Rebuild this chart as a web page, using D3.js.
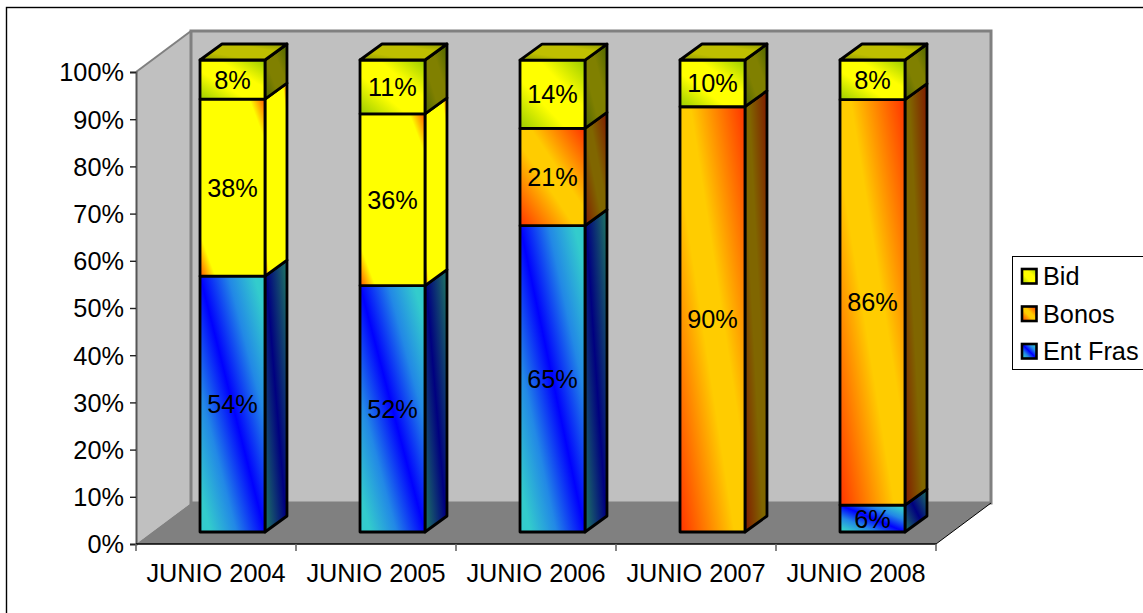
<!DOCTYPE html>
<html><head><meta charset="utf-8">
<script src="https://d3js.org/d3.v7.min.js"></script>
<style>
html,body{margin:0;padding:0;background:#fff;overflow:hidden}
svg{display:block}
text{font-family:"Liberation Sans",Arial,sans-serif;fill:#000}
</style></head><body>
<svg id="c" width="1143" height="613"></svg>
<script>
const categories = ["JUNIO 2004","JUNIO 2005","JUNIO 2006","JUNIO 2007","JUNIO 2008"];
const entFras = [54.2, 52.2, 64.9, 0, 5.7];
const bonos   = [37.5, 36.4, 20.6, 90.1, 85.9];
const bid     = [8.3, 11.4, 14.49, 9.9, 8.4];
const seriesNames = ["Bid","Bonos","Ent Fras"];
const yTicks = [0,10,20,30,40,50,60,70,80,90,100];
const bonosVariant = ["bright","bright","std","std","std"];

const W=1143,H=613;
const svg=d3.select("#c");
const defs=svg.append("defs");
function grad(id,stops){
  const g=defs.append("linearGradient").attr("id",id)
    .attr("x1",0).attr("y1",1).attr("x2",1).attr("y2",0);
  stops.forEach(([o,c])=>g.append("stop").attr("offset",o).attr("stop-color",c));
}
const sym=(a,b,k)=>[[0,a],[k,b],[1-k,b],[1,a]];
grad("f-ent",[[0,"#33CCCC"],[.08,"#33CCCC"],[.28,"#2288E6"],[.5,"#0000FF"],[.72,"#2288E6"],[.92,"#33CCCC"],[1,"#33CCCC"]]);
grad("s-ent",[[0,"#1A6666"],[.08,"#1A6666"],[.5,"#000080"],[.92,"#1A6666"],[1,"#1A6666"]]);
grad("f-bonos-std",sym("#FF3300","#FFCC00",.42));
grad("s-bonos-std",sym("#801A00","#806600",.42));
grad("f-bonos-bright",sym("#FF5500","#FFFF00",.12));
grad("s-bonos-bright",sym("#FF5500","#FFFF00",.1));
grad("f-bid",sym("#99CC00","#FFFF00",.36));
grad("s-bid",sym("#4D6600","#808000",.36));
grad("t-bid",sym("#8A9A00","#BFBF00",.3));

svg.append("rect").attr("width",W).attr("height",H).attr("fill","#fff");
svg.append("rect").attr("x",6.5).attr("y",7.5).attr("width",W+20).attr("height",H+20)
  .attr("fill","none").attr("stroke","#000").attr("stroke-width",1.4);

// Plot frame
const plotL=136,plotR=936,y0=544,y100=72,dX=55,dY=-41;
const yAxisScale=d3.scaleLinear().domain([0,100]).range([y0,y100]);
const xAxisScale=d3.scaleBand().domain(categories).range([plotL,plotR]);

// walls
const poly=pts=>"M"+pts.map(p=>p.join(",")).join("L")+"Z";
svg.append("path").attr("d",poly([[plotL,y100],[plotL+dX,y100+dY],[plotL+dX,y0+dY],[plotL,y0]]))
  .attr("fill","#C0C0C0").attr("stroke","none");
svg.append("path").attr("d",`M${plotL},${y100}L${plotL+dX},${y100+dY}`).attr("stroke","#808080").attr("stroke-width",2).attr("fill","none");
svg.append("rect").attr("x",plotL+dX).attr("y",y100+dY).attr("width",plotR-plotL).attr("height",y0-y100)
  .attr("fill","#C0C0C0").attr("stroke","#808080").attr("stroke-width",3);
svg.append("path").attr("d",poly([[plotL,y0],[plotL+dX,y0+dY],[plotR+dX,y0+dY],[plotR,y0]]))
  .attr("fill","#808080");
svg.append("path").attr("d",`M${plotR},${y0}L${plotR+dX},${y0+dY}`).attr("stroke","#000").attr("stroke-width",1).attr("fill","none");

// bars
const bdX=22,bdY=-16;
const xBar=d3.scaleBand().domain(categories).range([plotL+16.5,plotR+16.5]).paddingInner(.594).paddingOuter(.297);
const yBar=d3.scaleLinear().domain([0,100]).range([532,60]);
const rows=categories.map((c,i)=>({cat:c,i,entFras:entFras[i],bonos:bonos[i],bid:bid[i]}));
const keys=["entFras","bonos","bid"];
const stacked=d3.stack().keys(keys)(rows);
const gradFor=(key,i,face)=> key==="entFras"?`url(#${face}-ent)`
  : key==="bid"?`url(#${face}-bid)`
  : `url(#${face}-bonos-${bonosVariant[i]})`;
const bw=xBar.bandwidth();
const barG=svg.append("g").attr("stroke","#000").attr("stroke-width",2.8).attr("stroke-linejoin","round");
stacked.forEach(layer=>{
  layer.forEach((d,i)=>{
    if(d[1]-d[0]<=0) return;
    const x=xBar(categories[i]), yb=yBar(d[0]), yt=yBar(d[1]);
    barG.append("path").attr("d",poly([[x+bw,yt],[x+bw+bdX,yt+bdY],[x+bw+bdX,yb+bdY],[x+bw,yb]]))
      .attr("fill",gradFor(layer.key,i,"s"));
    barG.append("rect").attr("x",x).attr("y",yt).attr("width",bw).attr("height",yb-yt)
      .attr("fill",gradFor(layer.key,i,"f"));
    if(layer.key==="bid"){
      barG.append("path").attr("d",poly([[x,yt],[x+bdX,yt+bdY],[x+bw+bdX,yt+bdY],[x+bw,yt]]))
        .attr("fill","url(#t-bid)");
    }
  });
});
const fs=25.3;
// data labels
const labG=svg.append("g").attr("font-size",fs).attr("text-anchor","middle");
stacked.forEach(layer=>{
  layer.forEach((d,i)=>{
    if(d[1]-d[0]<=0) return;
    labG.append("text").attr("x",xBar(categories[i])+bw/2)
      .attr("y",yBar((d[0]+d[1])/2)).attr("dy","0.36em")
      .text(Math.round(d[1]-d[0])+"%");
  });
});

// axes
const yAx=svg.append("g").attr("transform",`translate(${plotL},0)`)
  .call(d3.axisLeft(yAxisScale).tickValues(yTicks).tickFormat(d=>d+"%").tickSize(6).tickPadding(6));
yAx.select(".domain").attr("stroke","#555").attr("stroke-width",2);
yAx.selectAll("line").attr("stroke","#222").attr("stroke-width",1.4);
yAx.selectAll("text").attr("font-size",fs).attr("dy","0.35em").style("fill","#000");
const xVals=d3.range(categories.length+1).map(i=>plotL+i*xAxisScale.step());
const xAx=svg.append("g").attr("transform",`translate(0,${y0})`)
  .call(d3.axisBottom(xAxisScale).tickSize(0).tickPadding(20));
xAx.select(".domain").attr("stroke","#000").attr("stroke-width",1.4).attr("d",`M${plotL},0H${plotR}`);
xAx.selectAll("text").attr("font-size",fs).style("fill","#000");
xAx.selectAll(".edge").data(xVals).enter().append("line").attr("class","edge")
  .attr("x1",d=>d).attr("x2",d=>d).attr("y1",0).attr("y2",7).attr("stroke","#666").attr("stroke-width",1.6);

// legend
const lg=svg.append("g");
lg.append("rect").attr("x",1012.5).attr("y",256.5).attr("width",150).attr("height",113)
  .attr("fill","#fff").attr("stroke","#000").attr("stroke-width",1);
const legendGrad=["f-bid","f-bonos-std","f-ent"];
const yLeg=d3.scalePoint().domain(seriesNames).range([276.5,351.5]);
seriesNames.forEach((s,i)=>{
  lg.append("rect").attr("x",1022).attr("y",yLeg(s)-7.5).attr("width",14.5).attr("height",14.5)
    .attr("fill",`url(#${legendGrad[i]})`).attr("stroke","#000").attr("stroke-width",2.6);
  lg.append("text").attr("x",1043).attr("y",yLeg(s)).attr("dy","0.35em").attr("font-size",fs).text(s);
});
</script></body></html>
